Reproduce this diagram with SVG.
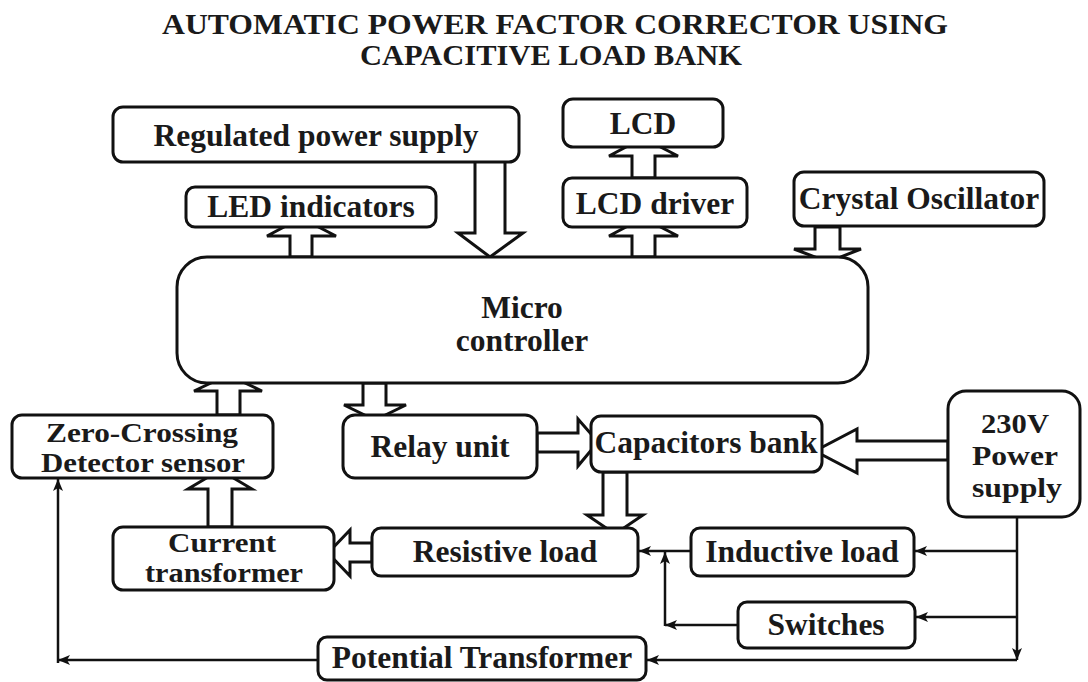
<svg xmlns="http://www.w3.org/2000/svg" width="1088" height="682" viewBox="0 0 1088 682">
<style>
.box{fill:#fff;stroke:#111;stroke-width:3}
.blk{fill:#fff;stroke:#111;stroke-width:3;stroke-linejoin:miter}
.ln{fill:none;stroke:#111;stroke-width:2.5}
text{font-family:"Liberation Serif","Times New Roman",serif;font-weight:bold;fill:#1a1a1a;text-anchor:middle;font-size:31.5px}
.title{font-size:30px}
.ml{font-size:27px}
.ml2{font-size:28px}
</style>
<defs>
<marker id="ah" markerUnits="userSpaceOnUse" markerWidth="14" markerHeight="12" refX="12" refY="6" orient="auto">
<path d="M0,1 L12,6 L0,11 L3,6 z" fill="#111"/>
</marker>
</defs>
<rect width="1088" height="682" fill="#fff"/>
<g id="title">
<text class="title" x="555" y="34" textLength="786" lengthAdjust="spacingAndGlyphs">AUTOMATIC POWER FACTOR CORRECTOR USING</text>
<text class="title" x="551" y="65" textLength="382" lengthAdjust="spacingAndGlyphs">CAPACITIVE LOAD BANK</text>
</g>
<g id="connectors">
<polygon class="blk" points="475,161 475,233 458,233 490,257 523,233 505,233 505,161"/>
<polygon class="blk" points="290,257 290,236 267,236 301,218 336,236 312,236 312,257"/>
<polygon class="blk" points="632,257 632,236 609,236 643,218 678,236 655,236 655,257"/>
<polygon class="blk" points="632,178 632,156 609,156 643,138 678,156 655,156 655,178"/>
<polygon class="blk" points="815,227 815,249 794,249 828,262 861,249 840,249 840,227"/>
<polygon class="blk" points="217,415 217,391 194,391 228,375 262,391 240,391 240,415"/>
<polygon class="blk" points="363,383 363,405 344,405 375,420 406,405 386,405 386,383"/>
<polygon class="blk" points="208,527 208,489 188,489 220,470 252,489 232,489 232,527"/>
<polygon class="blk" points="537,433 578,433 578,419 598,442 578,466 578,452 537,452"/>
<polygon class="blk" points="948,441 857,441 857,429 815,451 857,473 857,460 948,460"/>
<polygon class="blk" points="603,472 603,515 587,515 615,534 643,515 627,515 627,472"/>
<polygon class="blk" points="372,543 350,543 350,530 328,553 350,576 350,562 372,562"/>
<path class="ln" d="M1017,517 V660" marker-end="url(#ah)"/>
<path class="ln" d="M1017,660 H647" marker-end="url(#ah)"/>
<path class="ln" d="M1017,551 H915" marker-end="url(#ah)"/>
<path class="ln" d="M1017,617 H916" marker-end="url(#ah)"/>
<path class="ln" d="M691,551 H639" marker-end="url(#ah)"/>
<path class="ln" d="M738,625 H665" marker-end="url(#ah)"/>
<path class="ln" d="M665,626 V552" marker-end="url(#ah)"/>
<path class="ln" d="M318,660 H58" marker-end="url(#ah)"/>
<path class="ln" d="M58,663 V479" marker-end="url(#ah)"/>
</g>
<g id="regulated"><rect class="box" x="113" y="107" width="406" height="55" rx="10"/><text x="316" y="146">Regulated power supply</text></g>
<g id="lcd"><rect class="box" x="563" y="99" width="160" height="48" rx="10"/><text x="643" y="134">LCD</text></g>
<g id="led"><rect class="box" x="186" y="187" width="250" height="40" rx="9"/><text x="311" y="217">LED indicators</text></g>
<g id="lcddriver"><rect class="box" x="563" y="178" width="184" height="49" rx="9"/><text x="655" y="214">LCD driver</text></g>
<g id="crystal"><rect class="box" x="794" y="172" width="250" height="54" rx="10"/><text x="919" y="209">Crystal Oscillator</text></g>
<g id="micro"><rect class="box" x="177" y="257" width="691" height="126" rx="30"/><text x="522" y="318">Micro</text><text x="522" y="351">controller</text></g>
<g id="zcd"><rect class="box" x="12" y="415" width="261" height="63" rx="10"/><text class="ml" x="142" y="442" textLength="192" lengthAdjust="spacingAndGlyphs">Zero-Crossing</text><text class="ml" x="143" y="472" textLength="204" lengthAdjust="spacingAndGlyphs">Detector sensor</text></g>
<g id="relay"><rect class="box" x="343" y="415" width="194" height="63" rx="12"/><text x="440" y="457">Relay unit</text></g>
<g id="capbank"><rect class="box" x="591" y="416" width="231" height="56" rx="10"/><text x="706" y="453">Capacitors bank</text></g>
<g id="supply230"><rect class="box" x="948" y="391" width="132" height="126" rx="18"/><text class="ml2" x="1015" y="433" textLength="68" lengthAdjust="spacingAndGlyphs">230V</text><text class="ml2" x="1015" y="465" textLength="86" lengthAdjust="spacingAndGlyphs">Power</text><text class="ml2" x="1017" y="497" textLength="90" lengthAdjust="spacingAndGlyphs">supply</text></g>
<g id="ct"><rect class="box" x="113" y="527" width="221" height="63" rx="10"/><text class="ml" x="222" y="552" textLength="108" lengthAdjust="spacingAndGlyphs">Current</text><text class="ml" x="224" y="582" textLength="158" lengthAdjust="spacingAndGlyphs">transformer</text></g>
<g id="resistive"><rect class="box" x="372" y="528" width="266" height="48" rx="9"/><text x="505" y="562">Resistive load</text></g>
<g id="inductive"><rect class="box" x="691" y="528" width="223" height="48" rx="9"/><text x="802" y="562">Inductive load</text></g>
<g id="switches"><rect class="box" x="738" y="602" width="177" height="46" rx="9"/><text x="826" y="635">Switches</text></g>
<g id="pt"><rect class="box" x="318" y="637" width="328" height="43" rx="9"/><text x="482" y="668">Potential Transformer</text></g>
</svg>
